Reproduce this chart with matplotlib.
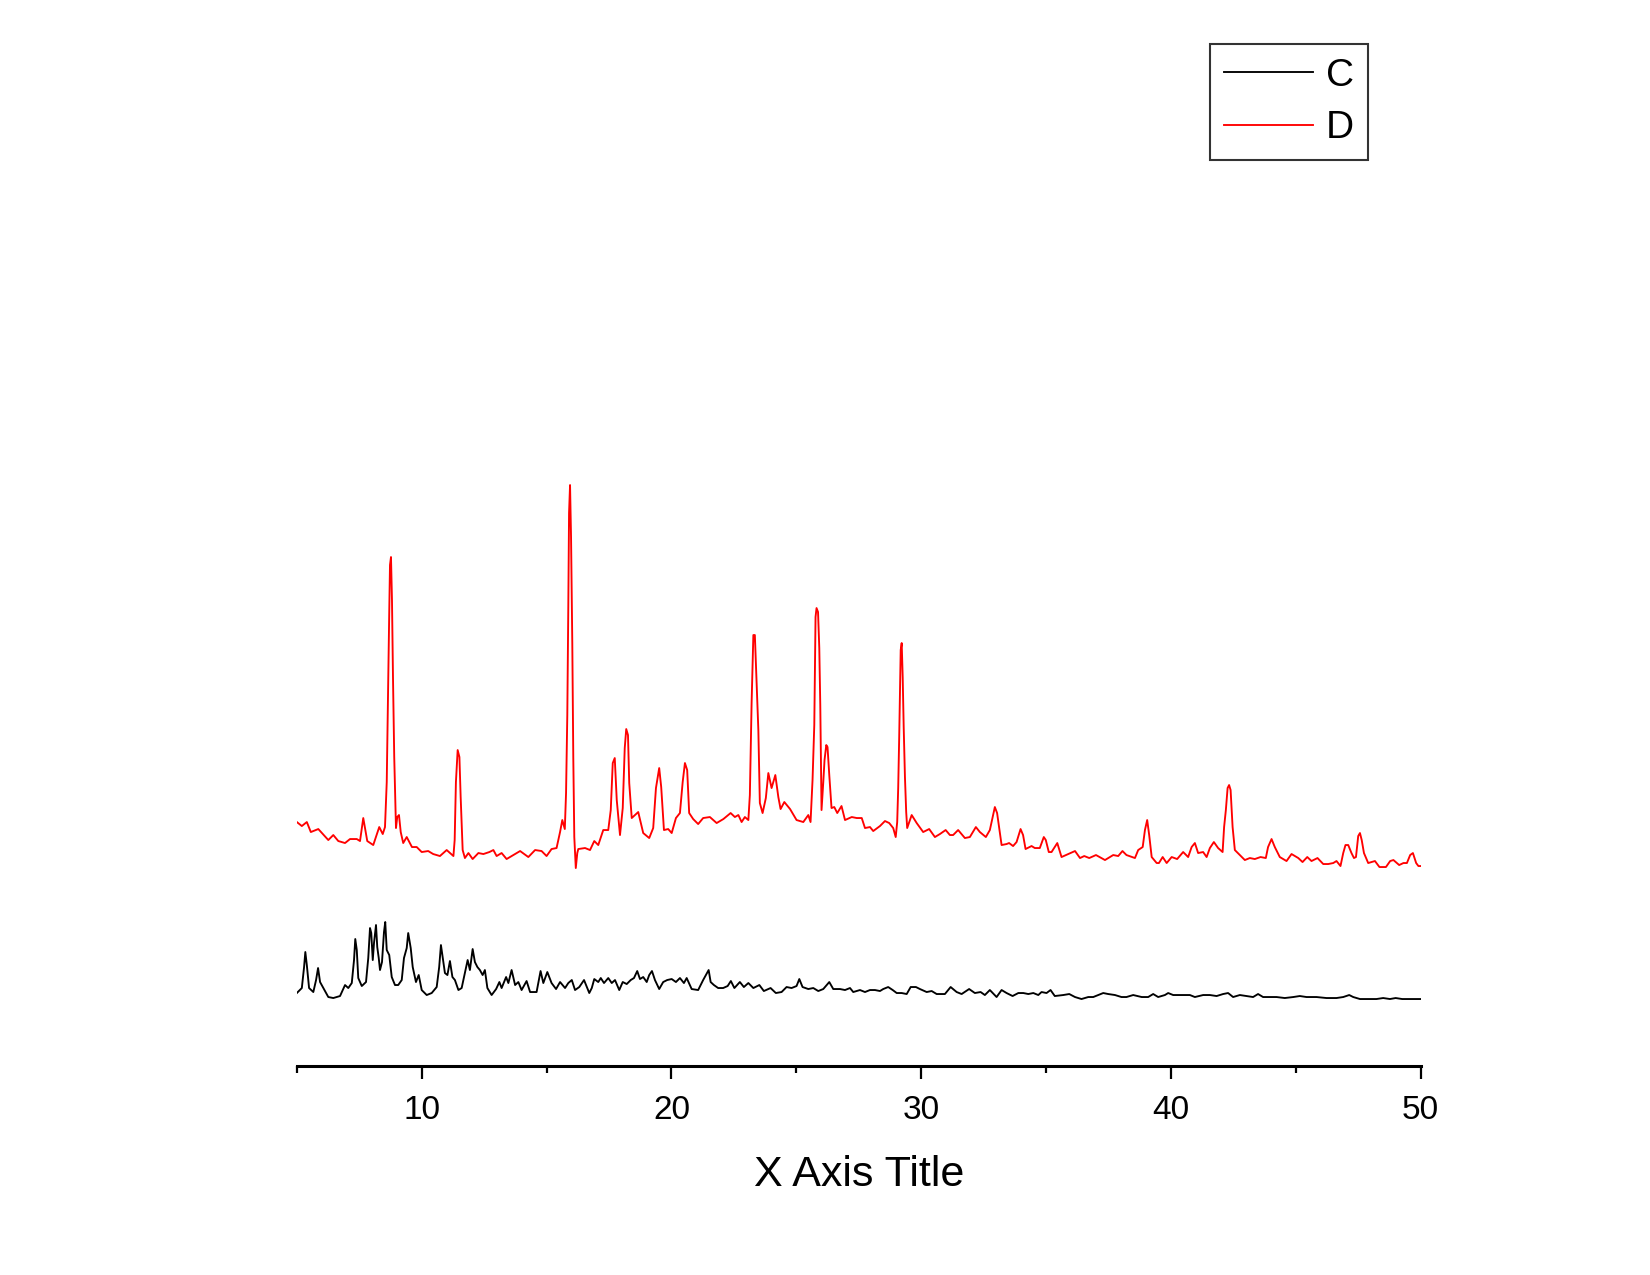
import matplotlib
matplotlib.use("Agg")
import matplotlib.pyplot as plt
from matplotlib.ticker import MultipleLocator

plt.rcParams["font.family"] = ["Liberation Sans", "DejaVu Sans"]

# sample C (black) - 2theta / intensity (a.u.)
c_x = [5.00, 5.20, 5.29, 5.34, 5.40, 5.49, 5.66, 5.77, 5.85, 5.93, 6.06, 6.26, 6.46, 6.73,
       6.93, 7.06, 7.20, 7.29, 7.34, 7.40, 7.46, 7.60, 7.77, 7.86, 7.93, 7.98, 8.04, 8.09,
       8.17, 8.22, 8.28, 8.33, 8.41, 8.49, 8.54, 8.60, 8.70, 8.80, 8.93, 9.06, 9.20, 9.29,
       9.40, 9.46, 9.56, 9.64, 9.77, 9.88, 10.00, 10.20, 10.40, 10.60, 10.70, 10.77, 10.84,
       10.93, 11.03, 11.13, 11.23, 11.33, 11.47, 11.60, 11.73, 11.84, 11.93, 12.04, 12.13,
       12.23, 12.33, 12.44, 12.53, 12.63, 12.80, 12.98, 13.11, 13.20, 13.38, 13.47, 13.60,
       13.74, 13.87, 14.00, 14.20, 14.34, 14.60, 14.76, 14.87, 15.03, 15.20, 15.38, 15.54,
       15.74, 15.87, 16.01, 16.14, 16.31, 16.50, 16.71, 16.81, 16.91, 17.07, 17.17, 17.30,
       17.47, 17.61, 17.74, 17.91, 18.05, 18.21, 18.37, 18.50, 18.63, 18.74, 18.87, 19.01,
       19.11, 19.22, 19.34, 19.51, 19.67, 19.83, 20.01, 20.18, 20.34, 20.50, 20.61, 20.81,
       21.07, 21.27, 21.38, 21.49, 21.57, 21.70, 21.87, 22.07, 22.25, 22.38, 22.52, 22.74,
       22.90, 23.08, 23.28, 23.52, 23.70, 23.97, 24.18, 24.41, 24.61, 24.81, 25.01, 25.12,
       25.25, 25.48, 25.68, 25.88, 26.08, 26.32, 26.48, 26.75, 26.95, 27.15, 27.28, 27.55,
       27.75, 27.95, 28.15, 28.35, 28.48, 28.68, 28.86, 29.02, 29.22, 29.42, 29.58, 29.79,
       29.95, 30.22, 30.42, 30.62, 30.95, 31.18, 31.42, 31.62, 31.92, 32.15, 32.38, 32.55,
       32.75, 33.02, 33.22, 33.42, 33.66, 33.89, 34.09, 34.29, 34.49, 34.69, 34.82, 35.02,
       35.18, 35.35, 35.69, 35.93, 36.16, 36.42, 36.69, 36.89, 37.09, 37.29, 37.49, 37.76,
       38.02, 38.22, 38.49, 38.83, 39.09, 39.29, 39.49, 39.76, 39.89, 40.09, 40.36, 40.76,
       40.96, 41.29, 41.56, 41.83, 42.09, 42.29, 42.49, 42.76, 43.03, 43.29, 43.49, 43.69,
       43.96, 44.23, 44.56, 44.90, 45.16, 45.43, 45.83, 46.23, 46.63, 46.90, 47.14, 47.30,
       47.57, 47.90, 48.23, 48.50, 48.77, 49.00, 49.26, 49.53, 49.73, 50.00]
c_y = [73, 78, 99, 114, 101, 78, 74, 86, 98, 84, 78, 69, 68, 70,
       81, 78, 83, 106, 127, 116, 88, 80, 84, 108, 138, 133, 106, 123,
       141, 119, 108, 96, 104, 134, 144, 116, 111, 89, 81, 81, 86, 108,
       118, 133, 118, 99, 84, 91, 76, 71, 73, 79, 99, 121, 109,
       93, 91, 105, 89, 86, 76, 78, 93, 106, 96, 117, 104,
       99, 96, 91, 96, 78, 71, 77, 84, 78, 89, 83, 96,
       81, 84, 76, 85, 74, 74, 95, 83, 94, 83, 77, 84,
       78, 83, 86, 76, 79, 86, 73, 78, 87, 84, 88, 83,
       88, 83, 86, 76, 84, 82, 86, 88, 95, 87, 89, 84,
       91, 95, 86, 77, 84, 86, 87, 84, 88, 83, 88, 77,
       76, 86, 91, 96, 84, 81, 78, 78, 80, 85, 78, 84,
       79, 83, 78, 81, 75, 78, 73, 74, 79, 78, 80, 87,
       79, 77, 78, 75, 77, 84, 77, 77, 76, 78, 74, 76,
       74, 76, 76, 75, 77, 79, 76, 73, 73, 72, 79, 79,
       77, 74, 75, 72, 72, 79, 74, 72, 77, 73, 74, 71,
       76, 69, 76, 73, 70, 73, 73, 72, 73, 71, 74, 73,
       76, 70, 71, 72, 69, 67, 69, 69, 71, 73, 72, 71,
       69, 69, 71, 69, 69, 72, 69, 71, 73, 71, 71, 71,
       69, 71, 71, 70, 72, 73, 69, 71, 70, 69, 72, 69,
       69, 69, 68, 69, 70, 69, 69, 68, 68, 69, 71, 69,
       67, 67, 67, 68, 67, 68, 67, 67, 67, 67]

# sample D (red)
d_x = [5.00, 5.20, 5.40, 5.56, 5.86, 6.26, 6.46, 6.66, 6.93, 7.13, 7.40, 7.53, 7.66, 7.82,
       8.06, 8.30, 8.44, 8.53, 8.60, 8.66, 8.70, 8.73, 8.77, 8.81, 8.85, 8.90, 8.97, 9.02,
       9.09, 9.16, 9.26, 9.40, 9.61, 9.80, 10.00, 10.26, 10.46, 10.73, 11.00, 11.27, 11.32,
       11.37, 11.44, 11.51, 11.56, 11.64, 11.73, 11.87, 12.04, 12.27, 12.47, 12.71, 12.87,
       13.00, 13.20, 13.40, 13.67, 13.94, 14.27, 14.54, 14.80, 15.00, 15.20, 15.40, 15.54,
       15.63, 15.73, 15.78, 15.83, 15.87, 15.90, 15.94, 15.98, 16.03, 16.07, 16.11, 16.17,
       16.23, 16.27, 16.54, 16.74, 16.91, 17.07, 17.27, 17.47, 17.57, 17.65, 17.73, 17.81,
       17.94, 18.05, 18.13, 18.19, 18.26, 18.31, 18.41, 18.67, 18.87, 19.11, 19.27, 19.38,
       19.51, 19.59, 19.70, 19.87, 20.01, 20.18, 20.34, 20.45, 20.54, 20.63, 20.71, 20.87,
       21.07, 21.27, 21.54, 21.81, 22.08, 22.37, 22.54, 22.68, 22.81, 22.94, 23.08, 23.14,
       23.21, 23.28, 23.34, 23.41, 23.48, 23.54, 23.65, 23.78, 23.88, 24.01, 24.16, 24.28,
       24.37, 24.52, 24.75, 25.01, 25.28, 25.48, 25.57, 25.65, 25.72, 25.77, 25.81, 25.87,
       25.92, 25.96, 26.01, 26.08, 26.13, 26.20, 26.25, 26.32, 26.41, 26.52, 26.64, 26.81,
       26.95, 27.22, 27.42, 27.62, 27.75, 27.95, 28.08, 28.35, 28.55, 28.72, 28.88, 28.98,
       29.04, 29.08, 29.12, 29.18, 29.22, 29.26, 29.30, 29.35, 29.40, 29.44, 29.51, 29.62,
       29.82, 30.08, 30.32, 30.55, 30.75, 30.98, 31.15, 31.28, 31.48, 31.75, 31.95, 32.19,
       32.35, 32.59, 32.75, 32.95, 33.04, 33.22, 33.42, 33.52, 33.68, 33.82, 33.98, 34.08,
       34.18, 34.42, 34.55, 34.75, 34.91, 34.99, 35.11, 35.22, 35.45, 35.62, 35.89, 36.16,
       36.36, 36.53, 36.73, 37.00, 37.36, 37.69, 37.89, 38.06, 38.22, 38.56, 38.69, 38.87,
       38.96, 39.05, 39.13, 39.23, 39.43, 39.52, 39.67, 39.83, 40.03, 40.25, 40.49, 40.69,
       40.83, 40.96, 41.09, 41.29, 41.43, 41.56, 41.72, 41.89, 42.07, 42.13, 42.20, 42.27,
       42.33, 42.39, 42.47, 42.56, 42.76, 42.96, 43.16, 43.36, 43.59, 43.80, 43.89, 44.03,
       44.16, 44.36, 44.63, 44.83, 45.10, 45.27, 45.46, 45.63, 45.87, 46.10, 46.30, 46.50,
       46.63, 46.79, 46.90, 46.99, 47.10, 47.23, 47.33, 47.41, 47.50, 47.57, 47.64, 47.73,
       47.90, 48.17, 48.35, 48.61, 48.78, 48.91, 49.14, 49.31, 49.45, 49.58, 49.69, 49.82,
       49.91, 50.00]
d_y = [244, 240, 244, 234, 237, 226, 231, 225, 223, 227, 227, 225, 248, 225,
       221, 239, 232, 239, 284, 389, 454, 501, 509, 466, 389, 309, 238, 249,
       251, 234, 223, 229, 219, 219, 214, 215, 212, 210, 216, 210, 226,
       284, 316, 309, 269, 216, 208, 213, 207, 213, 212, 214, 216,
       210, 213, 207, 211, 215, 209, 216, 215, 210, 217, 218, 234,
       246, 237, 273, 351, 459, 553, 581, 529, 423, 308, 229, 198,
       213, 217, 218, 216, 225, 221, 236, 236, 256, 303, 308, 266,
       231, 258, 318, 337, 331, 283, 248, 254, 233, 228, 238, 278,
       298, 279, 236, 237, 233, 248, 253, 284, 303, 296, 253, 247,
       242, 248, 249, 243, 247, 253, 249, 251, 244, 249, 246, 271,
       363, 431, 431, 384, 336, 263, 253, 268, 293, 278, 291, 269,
       257, 264, 257, 246, 244, 251, 244, 286, 341, 449, 458, 454,
       418, 361, 256, 284, 306, 321, 319, 291, 258, 259, 253, 260,
       246, 249, 248, 248, 238, 239, 235, 240, 245, 243, 238, 229,
       244, 278, 329, 416, 423, 389, 339, 289, 254, 238, 243, 251,
       243, 234, 237, 229, 232, 236, 231, 231, 236, 228, 229, 239,
       234, 229, 236, 259, 253, 221, 222, 223, 220, 224, 237, 231,
       217, 220, 218, 218, 229, 226, 214, 214, 223, 209, 212, 215,
       208, 210, 208, 211, 206, 211, 210, 215, 211, 208, 216, 219,
       236, 246, 231, 209, 203, 203, 209, 203, 209, 207, 214, 209,
       219, 223, 213, 214, 209, 218, 224, 218, 214, 239, 256, 278,
       281, 276, 239, 216, 211, 206, 208, 207, 209, 208, 219, 227,
       219, 209, 205, 212, 208, 204, 209, 205, 208, 202, 202, 203,
       205, 200, 213, 221, 221, 213, 208, 209, 230, 233, 226, 213,
       203, 205, 199, 199, 205, 206, 201, 203, 203, 211, 213, 203,
       200, 200]

fig = plt.figure(figsize=(16.5, 12.75), dpi=100)
ax = fig.add_axes([0.1799, 0.1639, 0.6811, 0.8031])

ax.plot(c_x, c_y, color="black", lw=1.35, label="C")
ax.plot(d_x, d_y, color="#ff0000", lw=1.35, label="D")

ax.set_xlim(5, 50)
ax.set_ylim(0, 1024)

for s in ("left", "right", "top"):
    ax.spines[s].set_visible(False)
ax.spines["bottom"].set_linewidth(2.2)
ax.set_yticks([])

ax.xaxis.set_major_locator(MultipleLocator(10))
ax.xaxis.set_minor_locator(MultipleLocator(5))
ax.tick_params(axis="x", which="major", direction="out", length=9, width=1.6,
               labelsize=24, pad=12)
ax.tick_params(axis="x", which="minor", direction="out", length=5, width=1.6)
ax.set_xlabel("X Axis Title", fontsize=31, labelpad=21)

leg = ax.legend(loc="upper left", bbox_to_anchor=(0.7333, 0.9655),
                bbox_transform=fig.transFigure, fontsize=28, frameon=True,
                fancybox=False, edgecolor="black", handlelength=2.3,
                handletextpad=0.33, labelspacing=0.42, borderpad=0.36,
                borderaxespad=0)
leg.get_frame().set_linewidth(1.5)

fig.savefig("out.png", dpi=100)
